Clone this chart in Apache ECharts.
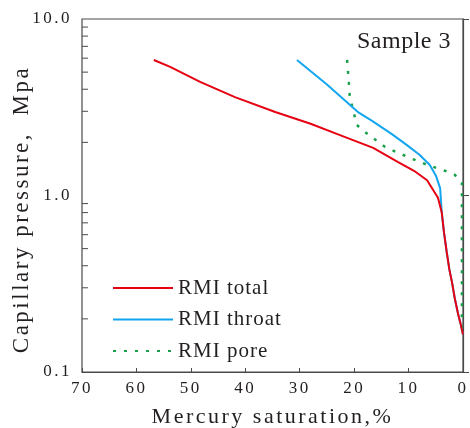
<!DOCTYPE html>
<html>
<head>
<meta charset="utf-8">
<script src="https://cdn.jsdelivr.net/npm/echarts@6/dist/echarts.min.js"></script>
<style>
  html, body { margin: 0; padding: 0; background: #fff; }
  #main { width: 470px; height: 428px; }
</style>
</head>
<body>
<div id="main"></div>
<script>
var xTicks = [70, 60, 50, 40, 30, 20, 10, 0];
var yMinor = [0.2, 0.3, 0.4, 0.5, 0.6, 0.7, 0.8, 0.9, 2, 3, 4, 5, 6, 7, 8, 9];

var rmiTotal = [
  [56.8, 5.86], [53.8, 5.35], [48.3, 4.4], [41.9, 3.61], [34.5, 2.97],
  [28, 2.55], [22.6, 2.2], [16.5, 1.86], [12, 1.55], [9, 1.38],
  [6.6, 1.22], [4.6, 0.97], [3.9, 0.80], [3.5, 0.62], [3.0, 0.48],
  [2.5, 0.38], [2.0, 0.32], [1.5, 0.26], [0.9, 0.213], [0.4, 0.185], [0, 0.163]
];
var rmiThroat = [
  [30.5, 5.86], [25, 4.25], [19.3, 2.97], [16.7, 2.65], [13, 2.22],
  [10.3, 1.93], [8, 1.7], [6.1, 1.49], [5, 1.3], [4.2, 1.1], [3.9, 0.80],
  [3.5, 0.62], [3.0, 0.48], [2.5, 0.38], [2.0, 0.32], [1.5, 0.26],
  [0.9, 0.213], [0.4, 0.185], [0, 0.163]
];
var rmiPore = [
  [21.3, 5.86], [21.0, 4.5], [20.8, 3.61], [19.5, 2.51], [18.0, 2.29],
  [14.3, 1.88], [10.1, 1.65], [7.5, 1.53], [5.7, 1.46], [3.3, 1.38],
  [1.5, 1.31], [0.2, 1.18], [0.2, 0.163]
];

// the source figure uses loose tracking; pick letter spacing by font size
var tracking = { 17: '2.5px', 21: '1px', 22: '2.5px', 23: '2.5px', 24: '0.5px' };
(function () {
  var proto = window.CanvasRenderingContext2D && CanvasRenderingContext2D.prototype;
  if (!proto || !('letterSpacing' in proto)) return;
  var desc = Object.getOwnPropertyDescriptor(proto, 'font');
  Object.defineProperty(proto, 'font', {
    configurable: true,
    get: function () { return desc.get.call(this); },
    set: function (v) {
      desc.set.call(this, v);
      var m = /(\d+)px/.exec(v);
      this.letterSpacing = (m && tracking[m[1]]) || '0px';
    }
  });
})();

var txt = '#231f20';
var axisCol = '#4a4a4a';
var font = '"Liberation Serif", "Times New Roman", serif';

var chart = echarts.init(document.getElementById('main'));

var option = {
  animation: false,
  title: {
    text: 'Sample 3',
    right: 14,
    top: 24,
    textStyle: { fontFamily: font, fontSize: 24, fontWeight: 'normal', color: txt }
  },
  legend: {
    orient: 'vertical',
    left: 112,
    top: 277,
    padding: 0,
    itemWidth: 60,
    itemHeight: 20,
    itemGap: 9.5,
    itemStyle: { opacity: 0 },
    textStyle: { fontFamily: font, fontSize: 21, color: txt },
    data: ['RMI total', 'RMI throat', 'RMI pore']
  },
  grid: {
    left: 82, right: 7, top: 19, bottom: 56,
    outerBoundsMode: 'none',
    containLabel: false,
    show: true, borderColor: axisCol, borderWidth: 1.2, backgroundColor: 'transparent'
  },
  xAxis: {
    type: 'value',
    inverse: true,
    min: 0, max: 70, interval: 10,
    name: 'Mercury saturation,%',
    nameLocation: 'middle',
    nameGap: 33,
    nameTextStyle: { fontFamily: font, fontSize: 22, color: txt },
    axisLine: { show: true, lineStyle: { color: axisCol, width: 1.2 } },
    axisTick: { show: true, inside: true, length: 4, lineStyle: { color: axisCol } },
    axisLabel: {
      fontFamily: font, fontSize: 17, color: txt, margin: 7,
      formatter: function (v) { return xTicks.indexOf(v) >= 0 ? String(v) : ''; }
    },
    splitLine: { show: false }
  },
  yAxis: {
    type: 'log',
    logBase: 10,
    min: 0.1, max: 10,
    name: 'Capillary pressure,  Mpa',
    nameLocation: 'middle',
    nameGap: 47,
    nameMoveOverlap: false,
    nameTextStyle: { fontFamily: font, fontSize: 23, color: txt, padding: [0, 28, 0, 0] },
    axisLine: { show: true, lineStyle: { color: axisCol, width: 1.2 } },
    axisTick: { show: true, inside: true, length: 6, lineStyle: { color: axisCol } },
    axisLabel: {
      fontFamily: font, fontSize: 17, color: txt, margin: 10,
      formatter: function (v) { return Number(v).toFixed(1); }
    },
    splitLine: { show: false }
  },
  series: [
    {
      name: 'RMI total', type: 'line', data: rmiTotal, symbol: 'none',
      lineStyle: { color: '#e60012', width: 2 }, itemStyle: { color: '#e60012' }, z: 4
    },
    {
      name: 'RMI throat', type: 'line', data: rmiThroat, symbol: 'none',
      lineStyle: { color: '#13a6ef', width: 2 }, itemStyle: { color: '#13a6ef' }, z: 3
    },
    {
      name: 'RMI pore', type: 'line', data: rmiPore, symbol: 'none',
      lineStyle: { color: '#1a9f4b', width: 2.5, type: [3, 8] }, itemStyle: { color: '#1a9f4b' }, z: 2
    },
    {
      // log minor ticks on the left axis
      type: 'custom',
      silent: true,
      data: yMinor.map(function (v) { return [70, v]; }),
      renderItem: function (params, api) {
        var p = api.coord([api.value(0), api.value(1)]);
        return {
          type: 'line',
          shape: { x1: p[0], y1: p[1], x2: p[0] + 6, y2: p[1] },
          style: { stroke: axisCol, lineWidth: 1 }
        };
      },
      z: 5
    }
  ]
};

chart.setOption(option);
</script>
</body>
</html>
